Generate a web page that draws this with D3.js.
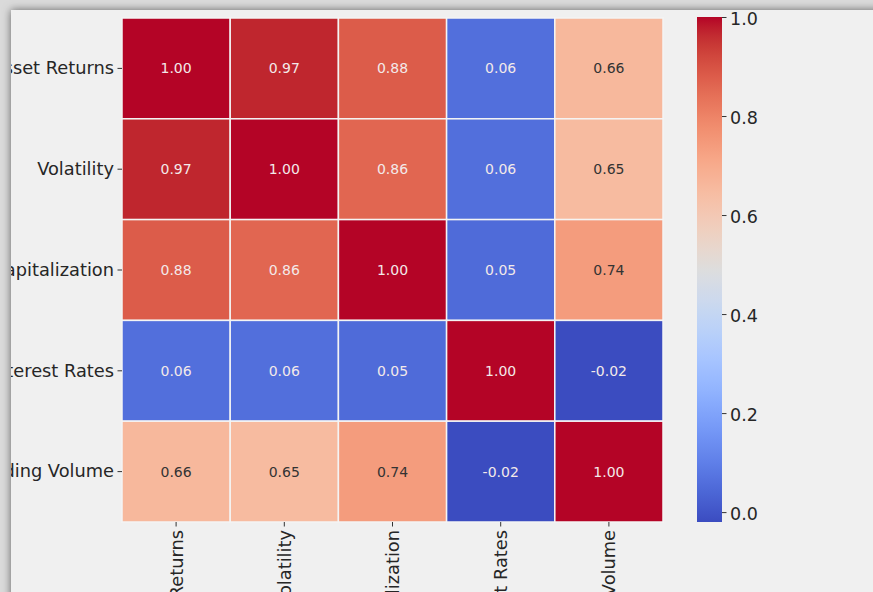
<!DOCTYPE html>
<html>
<head>
<meta charset="utf-8">
<script src="https://cdn.jsdelivr.net/npm/d3@7"></script>
<style>
  html, body { margin: 0; padding: 0; background: #dadada; }
  svg { display: block; font-family: "DejaVu Sans", sans-serif; }
</style>
</head>
<body>
<svg id="chart" width="873" height="592"></svg>
<script>
// Variables of the correlation matrix
const variables = ["Asset Returns", "Volatility", "Market Capitalization", "Interest Rates", "Trading Volume"];

// Correlation coefficients, row by row
const rowAssetReturns   = [1.00, 0.97, 0.88, 0.06, 0.66];
const rowVolatility     = [0.97, 1.00, 0.86, 0.06, 0.65];
const rowMarketCap      = [0.88, 0.86, 1.00, 0.05, 0.74];
const rowInterestRates  = [0.06, 0.06, 0.05, 1.00, -0.02];
const rowTradingVolume  = [0.66, 0.65, 0.74, -0.02, 1.00];
const matrix = [rowAssetReturns, rowVolatility, rowMarketCap, rowInterestRates, rowTradingVolume];

// Colour bar ticks
const colorbarTicks = [0.0, 0.2, 0.4, 0.6, 0.8, 1.0];

const chartTitle = "Correlation Analysis of Financial Variables";

// coolwarm diverging colormap (Moreland), sampled at 33 evenly spaced stops
const coolwarmStops = [
  [59,76,192],[68,90,204],[77,104,215],[87,117,225],[98,130,234],[108,142,241],
  [119,154,247],[130,165,251],[141,176,254],[152,185,255],[163,194,255],[174,201,253],
  [184,208,249],[194,213,244],[204,217,238],[213,219,230],[221,221,221],[229,216,209],
  [236,211,197],[241,204,185],[245,196,173],[247,187,160],[247,177,148],[247,166,135],
  [244,154,123],[241,141,111],[236,127,99],[229,112,88],[222,96,77],[213,80,66],
  [203,62,56],[192,40,47],[180,4,38]
].map(c => d3.rgb(c[0], c[1], c[2]).formatHex());
const coolwarm = d3.piecewise(d3.interpolateRgb, coolwarmStops);

const flat = matrix.flat();
const vmin = d3.min(flat), vmax = d3.max(flat);
const color = d3.scaleSequential(coolwarm).domain([vmin, vmax]);

const svg = d3.select("#chart");
const W = 873, H = 592;

// page background and the panel with its soft shadow
const defs = svg.append("defs");
const shadow = defs.append("filter").attr("id", "panelShadow")
  .attr("x", "-10%").attr("y", "-10%").attr("width", "120%").attr("height", "120%");
shadow.append("feDropShadow").attr("dx", 0).attr("dy", 0)
  .attr("stdDeviation", 4).attr("flood-color", "#000").attr("flood-opacity", 0.55);

svg.append("rect").attr("width", W).attr("height", H).attr("fill", "#dadada");
svg.append("rect").attr("x", 11).attr("y", 10).attr("width", W + 40).attr("height", H + 40)
  .attr("fill", "#f0f0f0").attr("filter", "url(#panelShadow)");

defs.append("clipPath").attr("id", "panelClip")
  .append("rect").attr("x", 11).attr("y", 10).attr("width", W).attr("height", H);
const g = svg.append("g").attr("clip-path", "url(#panelClip)");

// heatmap geometry
const hmLeft = 122, hmRight = 663, hmTop = 18, hmBottom = 522;
const x = d3.scaleBand().domain(variables).range([hmLeft, hmRight]);
const y = d3.scaleBand().domain(variables).range([hmTop, hmBottom]);

// title (mostly above the visible panel)
g.append("text")
  .attr("x", (hmLeft + hmRight) / 2).attr("y", 6)
  .attr("text-anchor", "middle")
  .attr("font-size", 20).attr("fill", "#262626")
  .text(chartTitle);

const cells = [];
matrix.forEach((row, i) => row.forEach((v, j) => cells.push({ r: variables[i], c: variables[j], v })));

g.selectAll("rect.cell").data(cells).join("rect")
  .attr("class", "cell")
  .attr("x", d => x(d.c)).attr("y", d => y(d.r))
  .attr("width", x.bandwidth()).attr("height", y.bandwidth())
  .attr("fill", d => color(d.v))
  .attr("stroke", "#f4f4f4").attr("stroke-width", 1.5);

// relative luminance, to pick a readable annotation colour
function luminance(hex) {
  const c = d3.rgb(hex);
  const f = u => { u /= 255; return u <= 0.03928 ? u / 12.92 : Math.pow((u + 0.055) / 1.055, 2.4); };
  return 0.2126 * f(c.r) + 0.7152 * f(c.g) + 0.0722 * f(c.b);
}

g.selectAll("text.annot").data(cells).join("text")
  .attr("class", "annot")
  .attr("x", d => x(d.c) + x.bandwidth() / 2)
  .attr("y", d => y(d.r) + y.bandwidth() / 2)
  .attr("text-anchor", "middle").attr("dominant-baseline", "central")
  .attr("font-size", 14)
  .attr("fill", d => luminance(color(d.v)) > 0.408 ? "#333333" : "#f3e9e9")
  .text(d => d.v.toFixed(2));

// y axis
const yAxis = g.append("g").attr("transform", `translate(${hmLeft},0)`)
  .call(d3.axisLeft(y).tickSize(4.5).tickPadding(3.5));
yAxis.select(".domain").remove();
yAxis.selectAll(".tick line").attr("stroke", "#333");
yAxis.selectAll(".tick text").attr("font-size", 17.8).attr("fill", "#262626")
  .attr("font-family", "DejaVu Sans, sans-serif");

// x axis with vertical labels
const xAxis = g.append("g").attr("transform", `translate(0,${hmBottom})`)
  .call(d3.axisBottom(x).tickSize(4.5).tickPadding(3.5));
xAxis.select(".domain").remove();
xAxis.selectAll(".tick line").attr("stroke", "#333");
xAxis.selectAll(".tick text")
  .attr("font-size", 17.8).attr("fill", "#262626")
  .attr("font-family", "DejaVu Sans, sans-serif")
  .attr("text-anchor", "end")
  .attr("dy", null)
  .attr("dominant-baseline", "central")
  .attr("transform", "translate(0,8) rotate(-90)")
  .attr("y", 0).attr("x", 0);

// colour bar
const cbX = 697, cbW = 25, cbTop = 17, cbBottom = 522;
const cbScale = d3.scaleLinear().domain([vmin, vmax]).range([cbBottom, cbTop]);
const grad = defs.append("linearGradient").attr("id", "cbGrad")
  .attr("x1", 0).attr("y1", 1).attr("x2", 0).attr("y2", 0);
d3.range(0, 1.0001, 0.02).forEach(t => {
  grad.append("stop").attr("offset", t)
    .attr("stop-color", color(vmin + t * (vmax - vmin)));
});
g.append("rect").attr("x", cbX).attr("y", cbTop)
  .attr("width", cbW).attr("height", cbBottom - cbTop)
  .attr("fill", "url(#cbGrad)");

const cbAxis = g.append("g").attr("transform", `translate(${cbX + cbW},0)`)
  .call(d3.axisRight(cbScale).tickValues(colorbarTicks).tickFormat(d3.format(".1f"))
    .tickSize(4.5).tickPadding(3.5));
cbAxis.select(".domain").remove();
cbAxis.selectAll(".tick line").attr("stroke", "#333");
cbAxis.selectAll(".tick text").attr("font-size", 17.5).attr("fill", "#262626")
  .attr("font-family", "DejaVu Sans, sans-serif")
  .attr("dy", "0.4em");
</script>
</body>
</html>
